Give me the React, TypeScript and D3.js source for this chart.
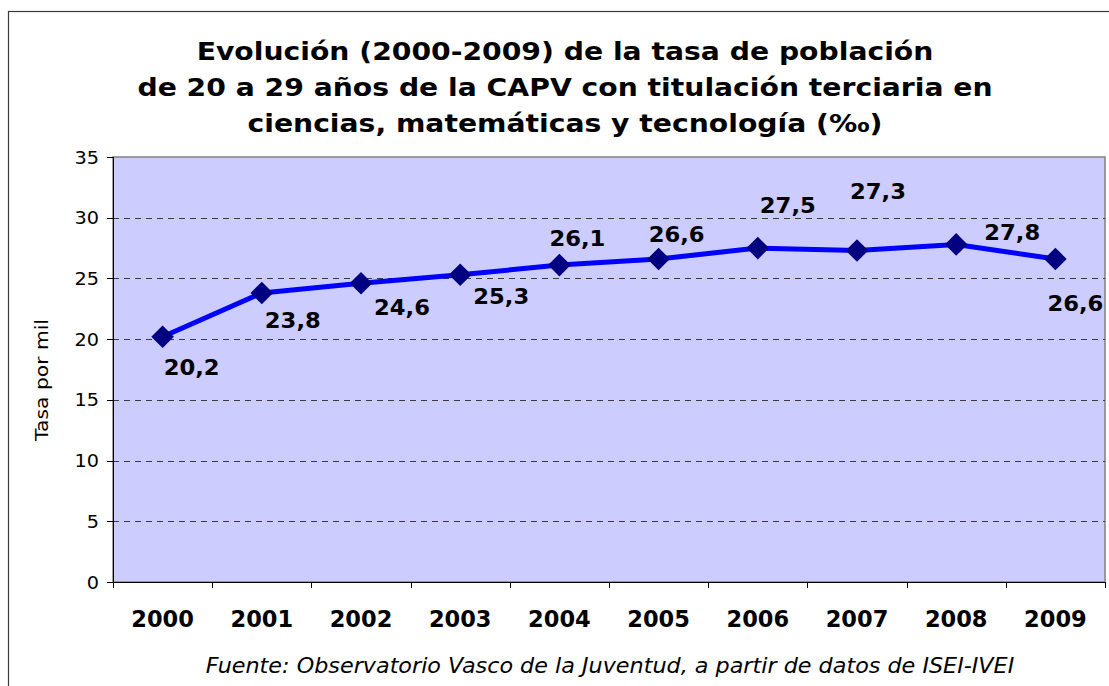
import * as d3 from "d3";
import type { ReactNode } from "react";

// tasa por mil, población 20-29 años con titulación terciaria en CMT
const years = ["2000", "2001", "2002", "2003", "2004", "2005", "2006", "2007", "2008", "2009"];
const tasa = [20.2, 23.8, 24.6, 25.3, 26.1, 26.6, 27.5, 27.3, 27.8, 26.6];
const yTicks = [0, 5, 10, 15, 20, 25, 30, 35];
const titleLines = [
  "Evolución (2000-2009) de la tasa de población",
  "de 20 a 29 años de la CAPV con titulación terciaria en",
  "ciencias, matemáticas y tecnología (‰)",
];
const yLabel = "Tasa por mil";
const fuente = "Fuente: Observatorio Vasco de la Juventud, a partir de datos de ISEI-IVEI";

// colocación manual de las etiquetas (como en el gráfico original de Excel)
const labelShift: [number, number][] = [
  [29, 30], [31, 27], [41, 24], [41, 21], [18, -27],
  [18, -25], [30, -43], [21, -60], [56, -12], [20, 44],
];

const W = 1109;
const H = 686;
const FONT = "'DejaVu Sans', Verdana, sans-serif";

// texto algo ensanchado (el original usa Verdana, más ancha)
function Txt(props: {
  x: number; y: number; sx?: number; rot?: number; size: number;
  anchor?: string; bold?: boolean; italic?: boolean; children: ReactNode;
}) {
  const { x, y, sx = 1, rot = 0, size, anchor = "middle", bold, italic, children } = props;
  return (
    <text transform={`translate(${x},${y}) rotate(${rot}) scale(${sx},1)`} textAnchor={anchor}
      fontSize={size} fontWeight={bold ? "bold" : "normal"} fontStyle={italic ? "italic" : "normal"} fill="#000">
      {children}
    </text>
  );
}

export default function App() {
  const plot = { left: 113, top: 157, right: 1105, bottom: 582 };

  const x = d3.scaleBand().domain(years).range([plot.left, plot.right]).padding(0);
  const y = d3.scaleLinear().domain([0, 35]).range([plot.bottom, plot.top]);
  const cx = (d: string) => (x(d) ?? 0) + x.bandwidth() / 2;

  const line = d3.line<number>()
    .x((_, i) => cx(years[i]))
    .y((d) => y(d));

  const diamond = d3.symbol().type(d3.symbolSquare).size(256)();

  const boundaries = d3.range(years.length + 1).map((i) => plot.left + i * x.bandwidth());
  const fmt = (v: number) => v.toFixed(1).replace(".", ",");
  const py = (t: number) => Math.round(y(t)) + 0.5;

  return (
    <svg width={W} height={H} style={{ position: "absolute", left: 0, top: 0, background: "#fff" }}
      fontFamily={FONT}>
      {/* marco del gráfico */}
      <rect x={8.5} y={11.5} width={W + 20} height={H + 20} fill="#fff" stroke="#3a3a3a" strokeWidth={1.2} />

      {/* título */}
      {titleLines.map((t, i) => (
        <Txt key={i} x={565} y={60 + i * 36} sx={1.13} size={25} bold>{t}</Txt>
      ))}

      {/* área de trazado */}
      <rect x={plot.left} y={plot.top} width={plot.right - plot.left} height={plot.bottom - plot.top}
        fill="#CCCCFF" stroke="#808080" strokeWidth={1.5} />

      {/* rejilla */}
      {yTicks.filter((t) => t > 0 && t < 35).map((t) => (
        <line key={t} x1={plot.left} x2={plot.right} y1={py(t)} y2={py(t)}
          stroke="#3c3c3c" strokeWidth={1} strokeDasharray="6,5" />
      ))}

      {/* eje Y */}
      <line x1={plot.left + 0.5} x2={plot.left + 0.5} y1={plot.top} y2={plot.bottom} stroke="#000" />
      {yTicks.map((t) => (
        <g key={t}>
          <line x1={plot.left - 6} x2={plot.left} y1={py(t)} y2={py(t)} stroke="#000" />
          <Txt x={99} y={y(t) + 6.5} sx={1.07} size={18} anchor="end">{t}</Txt>
        </g>
      ))}
      <Txt x={48} y={380} rot={-90} sx={1.16} size={17.5}>{yLabel}</Txt>

      {/* eje X */}
      <line x1={plot.left} x2={plot.right} y1={plot.bottom + 0.5} y2={plot.bottom + 0.5} stroke="#000" />
      {boundaries.map((bx, i) => (
        <line key={i} x1={Math.round(bx) + 0.5} x2={Math.round(bx) + 0.5} y1={plot.bottom} y2={plot.bottom + 6} stroke="#000" />
      ))}
      {years.map((yr) => (
        <Txt key={yr} x={cx(yr)} y={627} size={22.5} bold>{yr}</Txt>
      ))}

      {/* serie */}
      <path d={line(tasa) ?? ""} fill="none" stroke="#0000FF" strokeWidth={5} strokeLinejoin="round" />
      {tasa.map((v, i) => (
        <path key={i} d={diamond ?? ""} fill="#000080"
          transform={`translate(${cx(years[i])},${y(v)}) rotate(45)`} />
      ))}
      {tasa.map((v, i) => (
        <Txt key={i} x={cx(years[i]) + labelShift[i][0]} y={y(v) + labelShift[i][1] + 8}
          sx={1.03} size={22} bold>{fmt(v)}</Txt>
      ))}

      {/* fuente */}
      <Txt x={610} y={673} sx={1.087} size={20.5} italic>{fuente}</Txt>
    </svg>
  );
}
